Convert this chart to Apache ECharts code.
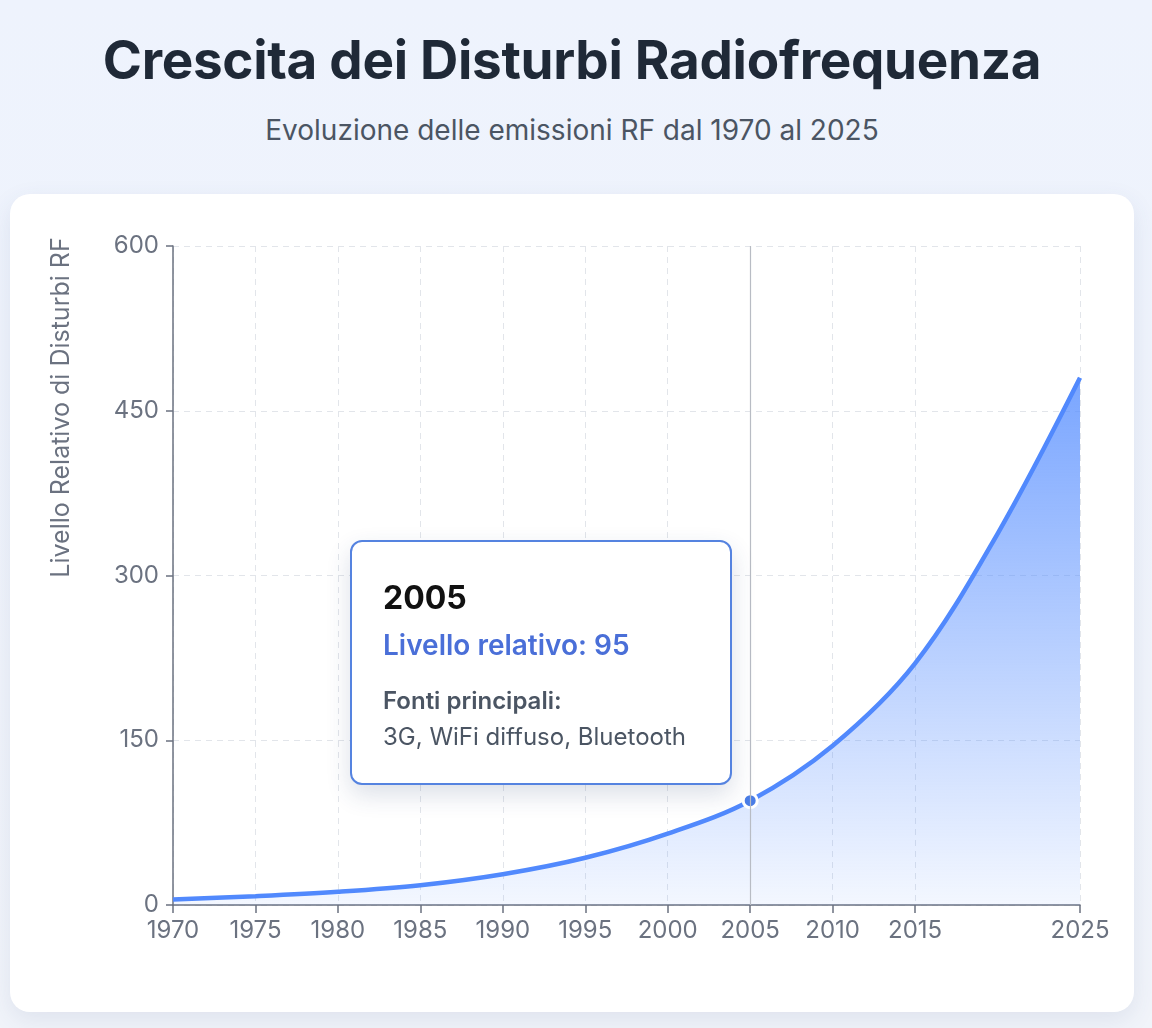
<!DOCTYPE html>
<html lang="it">
<head>
<meta charset="utf-8">
<title>Crescita dei Disturbi Radiofrequenza</title>
<script src="https://cdn.jsdelivr.net/npm/echarts@6/dist/echarts.min.js"></script>
<style>
    html, body { margin: 0; padding: 0; }
    body {
        width: 1152px; height: 1028px; overflow: hidden;
        background: linear-gradient(180deg, #eef3fd 0%, #f1f4fa 100%);
        font-family: Inter, "Noto Sans", sans-serif;
    }
    h1 {
        position: absolute; left: 0; width: 1144px; top: 28px; margin: 0;
        text-align: center; font-size: 53px; font-weight: 700; color: #1f2937;
        line-height: 64px; letter-spacing: -0.3px;
    }
    .sub {
        position: absolute; left: 0; width: 1144px; top: 113px; margin: 0;
        text-align: center; font-size: 28px; line-height: 34px; color: #4b5563;
    }
    .card {
        position: absolute; left: 10px; top: 194px; width: 1124px; height: 818px;
        background: #fff; border-radius: 20px;
        box-shadow: 0 8px 24px rgba(60, 80, 130, 0.10);
    }
    #chart { width: 1124px; height: 818px; }
</style>
</head>
<body>
<h1>Crescita dei Disturbi Radiofrequenza</h1>
<p class="sub">Evoluzione delle emissioni RF dal 1970 al 2025</p>
<div class="card"><div id="chart"></div></div>
<script>
// anni e livelli
const years = [1970, 1975, 1980, 1985, 1990, 1995, 2000, 2005, 2010, 2015, 2020, 2025];
const levels = [5, 8, 12, 18, 28, 43, 65, 95, 145, 220, 338, 480];
const sources = [
    'Radio AM/FM, TV analogica',
    'Radio, TV, radar',
    'TV via cavo, primi computer',
    'Telefonia 1G, PC',
    'Telefonia 1G, elettronica di consumo',
    'GSM 2G, cordless',
    'GSM diffuso, primi WiFi',
    '3G, WiFi diffuso, Bluetooth',
    '4G, smartphone, IoT',
    '4G+, dispositivi smart',
    '5G, smart home',
    '5G, IoT massivo, satelliti'
];
// etichette dell'asse x (il 2020 non compare)
const xTicks = [1970, 1975, 1980, 1985, 1990, 1995, 2000, 2005, 2010, 2015, 2025];
const yTicks = [0, 150, 300, 450, 600];
const highlightYear = 2005;

function renderChart(containerId) {
    if (typeof echarts === 'undefined') {
        document.getElementById(containerId).innerHTML = '<div>ECharts non caricato</div>';
        return;
    }
    const dom = document.getElementById(containerId);
    const chart = echarts.init(dom);
    const points = years.map((y, i) => [y, levels[i]]);
    const blue = '#4a7de6';
    const font = 'Inter, "Noto Sans", sans-serif';

    const option = {
        animation: false,
        grid: { left: 163, right: 54, top: 52, bottom: 107 },
        tooltip: {
            trigger: 'axis',
            triggerOn: 'none',
            alwaysShowContent: true,
            position: [340, 346],
            padding: 0,
            borderWidth: 0,
            backgroundColor: 'transparent',
            extraCssText: 'box-shadow:none;',
            axisPointer: {
                type: 'line',
                lineStyle: { color: '#b8bcc4', width: 1.2, type: 'solid' }
            },
            formatter: function (params) {
                const p = params[0];
                const idx = p.dataIndex;
                return '<div style="box-sizing:border-box;width:382px;height:245px;background:#fff;' +
                    'border:2.5px solid #5583e0;border-radius:12px;padding:37px 30px 0 31px;' +
                    'box-shadow:0 10px 24px rgba(40,60,110,0.16);font-family:Inter,\'Noto Sans\',sans-serif;">' +
                    '<div style="font-size:32px;font-weight:700;color:#111;line-height:38px;">' + years[idx] + '</div>' +
                    '<div style="font-size:28px;font-weight:600;color:#4a6fd8;line-height:34px;margin-top:11px;">Livello relativo: ' + levels[idx] + '</div>' +
                    '<div style="font-size:24px;font-weight:600;color:#4b5563;line-height:30px;margin-top:24px;">Fonti principali:</div>' +
                    '<div style="font-size:24px;color:#4b5563;line-height:30px;margin-top:6px;white-space:nowrap;">' + sources[idx] + '</div>' +
                    '</div>';
            }
        },
        xAxis: {
            type: 'value',
            min: 1970,
            max: 2025,
            axisLine: { lineStyle: { color: '#6b7280', width: 1.5 } },
            axisTick: { show: true, length: 8, customValues: xTicks, lineStyle: { color: '#6b7280', width: 1.5 } },
            axisLabel: {
                customValues: xTicks,
                color: '#6b7280', fontSize: 24, margin: 14,
                fontFamily: font,
                formatter: v => String(v)
            },
            splitLine: { show: true, lineStyle: { color: '#e2e5ea', type: [6, 5], width: 1 } }
        },
        yAxis: {
            type: 'value',
            min: 0,
            max: 600,
            interval: 150,
            name: 'Livello Relativo di Disturbi RF',
            nameLocation: 'middle',
            nameGap: 99,
            nameRotate: 90,
            nameTextStyle: {
                color: '#6b7280', fontSize: 25,
                fontFamily: font,
                padding: [0, 0, 0, 336]
            },
            axisLine: { show: true, lineStyle: { color: '#6b7280', width: 1.5 } },
            axisTick: { show: true, length: 7, lineStyle: { color: '#6b7280', width: 1.5 } },
            axisLabel: {
                customValues: yTicks,
                color: '#6b7280', fontSize: 24, margin: 14,
                fontFamily: font
            },
            splitLine: { show: true, lineStyle: { color: '#e2e5ea', type: [6, 5], width: 1 } }
        },
        series: [{
            name: 'Livello relativo',
            type: 'line',
            data: points,
            smooth: 0.35,
            showSymbol: false,
            symbol: 'circle',
            symbolSize: 14,
            lineStyle: { color: blue, width: 4.5 },
            itemStyle: { color: blue, borderColor: '#fff', borderWidth: 3 },
            emphasis: {
                scale: 1,
                itemStyle: { color: blue, borderColor: '#fff', borderWidth: 3 },
                lineStyle: { width: 4.5 }
            },
            areaStyle: {
                opacity: 1,
                color: new echarts.graphic.LinearGradient(0, 0, 0, 1, [
                    { offset: 0, color: 'rgba(80,130,240,0.80)' },
                    { offset: 1, color: 'rgba(80,130,240,0.07)' }
                ])
            }
        }]
    };

    chart.setOption(option);
    chart.dispatchAction({ type: 'showTip', seriesIndex: 0, dataIndex: years.indexOf(highlightYear) });
}

renderChart('chart');
</script>
</body>
</html>
